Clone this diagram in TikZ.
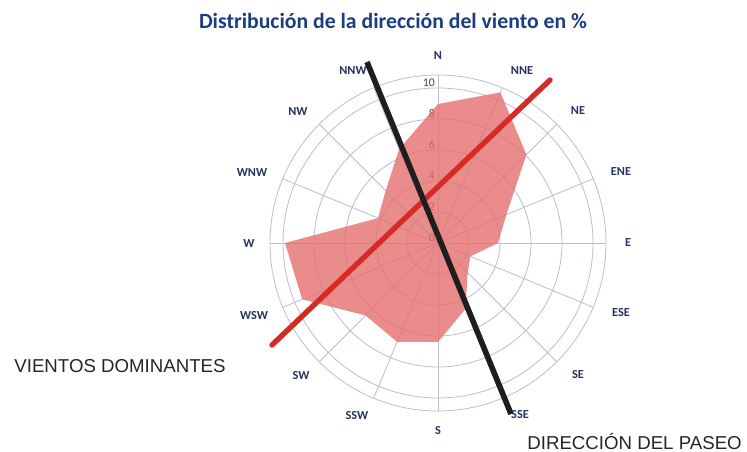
\documentclass[tikz,border=0pt]{standalone}
\usepackage{fontspec}
\setmainfont{Carlito}
\newfontfamily\arialf{Liberation Sans}
\definecolor{gridc}{RGB}{186,190,212}
\definecolor{roseF}{RGB}{230,108,108}
\definecolor{titleC}{RGB}{28,62,128}
\definecolor{lblC}{RGB}{38,50,95}
\definecolor{numC}{RGB}{70,65,65}
\definecolor{redL}{RGB}{214,42,38}
\definecolor{blackL}{RGB}{30,30,30}
\tikzset{
  gridline/.style={gridc, line width=0.6pt},
  dirlbl/.style={text=lblC, font=\bfseries\fontsize{9.2}{10}\selectfont, inner sep=0pt},
  numlbl/.style={text=numC, font=\fontsize{8.8}{10}\selectfont, inner sep=0pt, anchor=east},
  bigtxt/.style={text=black!85, font=\arialf\fontsize{14}{16}\selectfont, inner sep=0pt},
}
\begin{document}
\begin{tikzpicture}[x=0.75pt,y=-0.75pt]
\useasboundingbox (0,0) rectangle (747,452);
\fill[white] (0,0) rectangle (747,452);
\coordinate (C) at (438,243);
% title
\node[text=titleC, font=\bfseries\fontsize{16.3}{18}\selectfont, inner sep=0pt] (title) at (393,21) {Distribución de la dirección del viento en \%};
% grid
\begin{scope}[shift={(C)}]
  \foreach \r in {31,62,93,124,155,168}
    \draw[gridline] (0,0) circle[radius=\r];
  \foreach \k in {0,...,15}
    \draw[gridline] (0,0) -- ({22.5*\k-90}:168);
\end{scope}
% scale numbers
\foreach \v in {0,2,...,10}
  \node[numlbl] (n\v) at (435,{238-15.5*\v}) {\v};
% rose polygon
\begin{scope}[shift={(C)}]
  \fill[roseF, fill opacity=0.78]
    (-90:139) -- (-67.5:163) -- (-45:125) -- (-22.5:74) -- (0:60) --
    (22.5:35) -- (45:42) -- (67.5:71.5) -- (90:99) -- (112.5:107) --
    (135:102.5) -- (157.5:147) -- (180:153) -- (202.5:65) -- (225:74) --
    (247.5:101.6) -- cycle;
\end{scope}
% direction labels
\node[dirlbl] (dN)   at (438,56)  {N};
\node[dirlbl] (dNNE) at (522,71)  {NNE};
\node[dirlbl] (dNE)  at (578,111) {NE};
\node[dirlbl] (dENE) at (621,172) {ENE};
\node[dirlbl] (dE)   at (628,243) {E};
\node[dirlbl] (dESE) at (621,313) {ESE};
\node[dirlbl] (dSE)  at (578,375) {SE};
\node[dirlbl] (dSSE) at (520,415) {SSE};
\node[dirlbl] (dS)   at (438,431) {S};
\node[dirlbl] (dSSW) at (357,416) {SSW};
\node[dirlbl] (dSW)  at (301,376) {SW};
\node[dirlbl] (dWSW) at (254,316) {WSW};
\node[dirlbl] (dW)   at (249,244) {W};
\node[dirlbl] (dWNW) at (252,173) {WNW};
\node[dirlbl] (dNW)  at (298,112) {NW};
\node[dirlbl] (dNNW) at (353,71)  {NNW};
% lines
\coordinate (r1) at (272,345);
\coordinate (r2) at (550,80);
\coordinate (b1) at (367,62);
\coordinate (b2) at (511,414);
\draw[redL, line width=4pt, line cap=round] (r1) -- (r2);
\draw[blackL, line width=4.2pt] (b1) -- (b2);
% annotations
\node[bigtxt] (vd) at (120,366) {VIENTOS DOMINANTES};
\node[bigtxt, anchor=east] (dp) at (742,441) {DIRECCIÓN DEL PASEO};
\end{tikzpicture}
\end{document}
